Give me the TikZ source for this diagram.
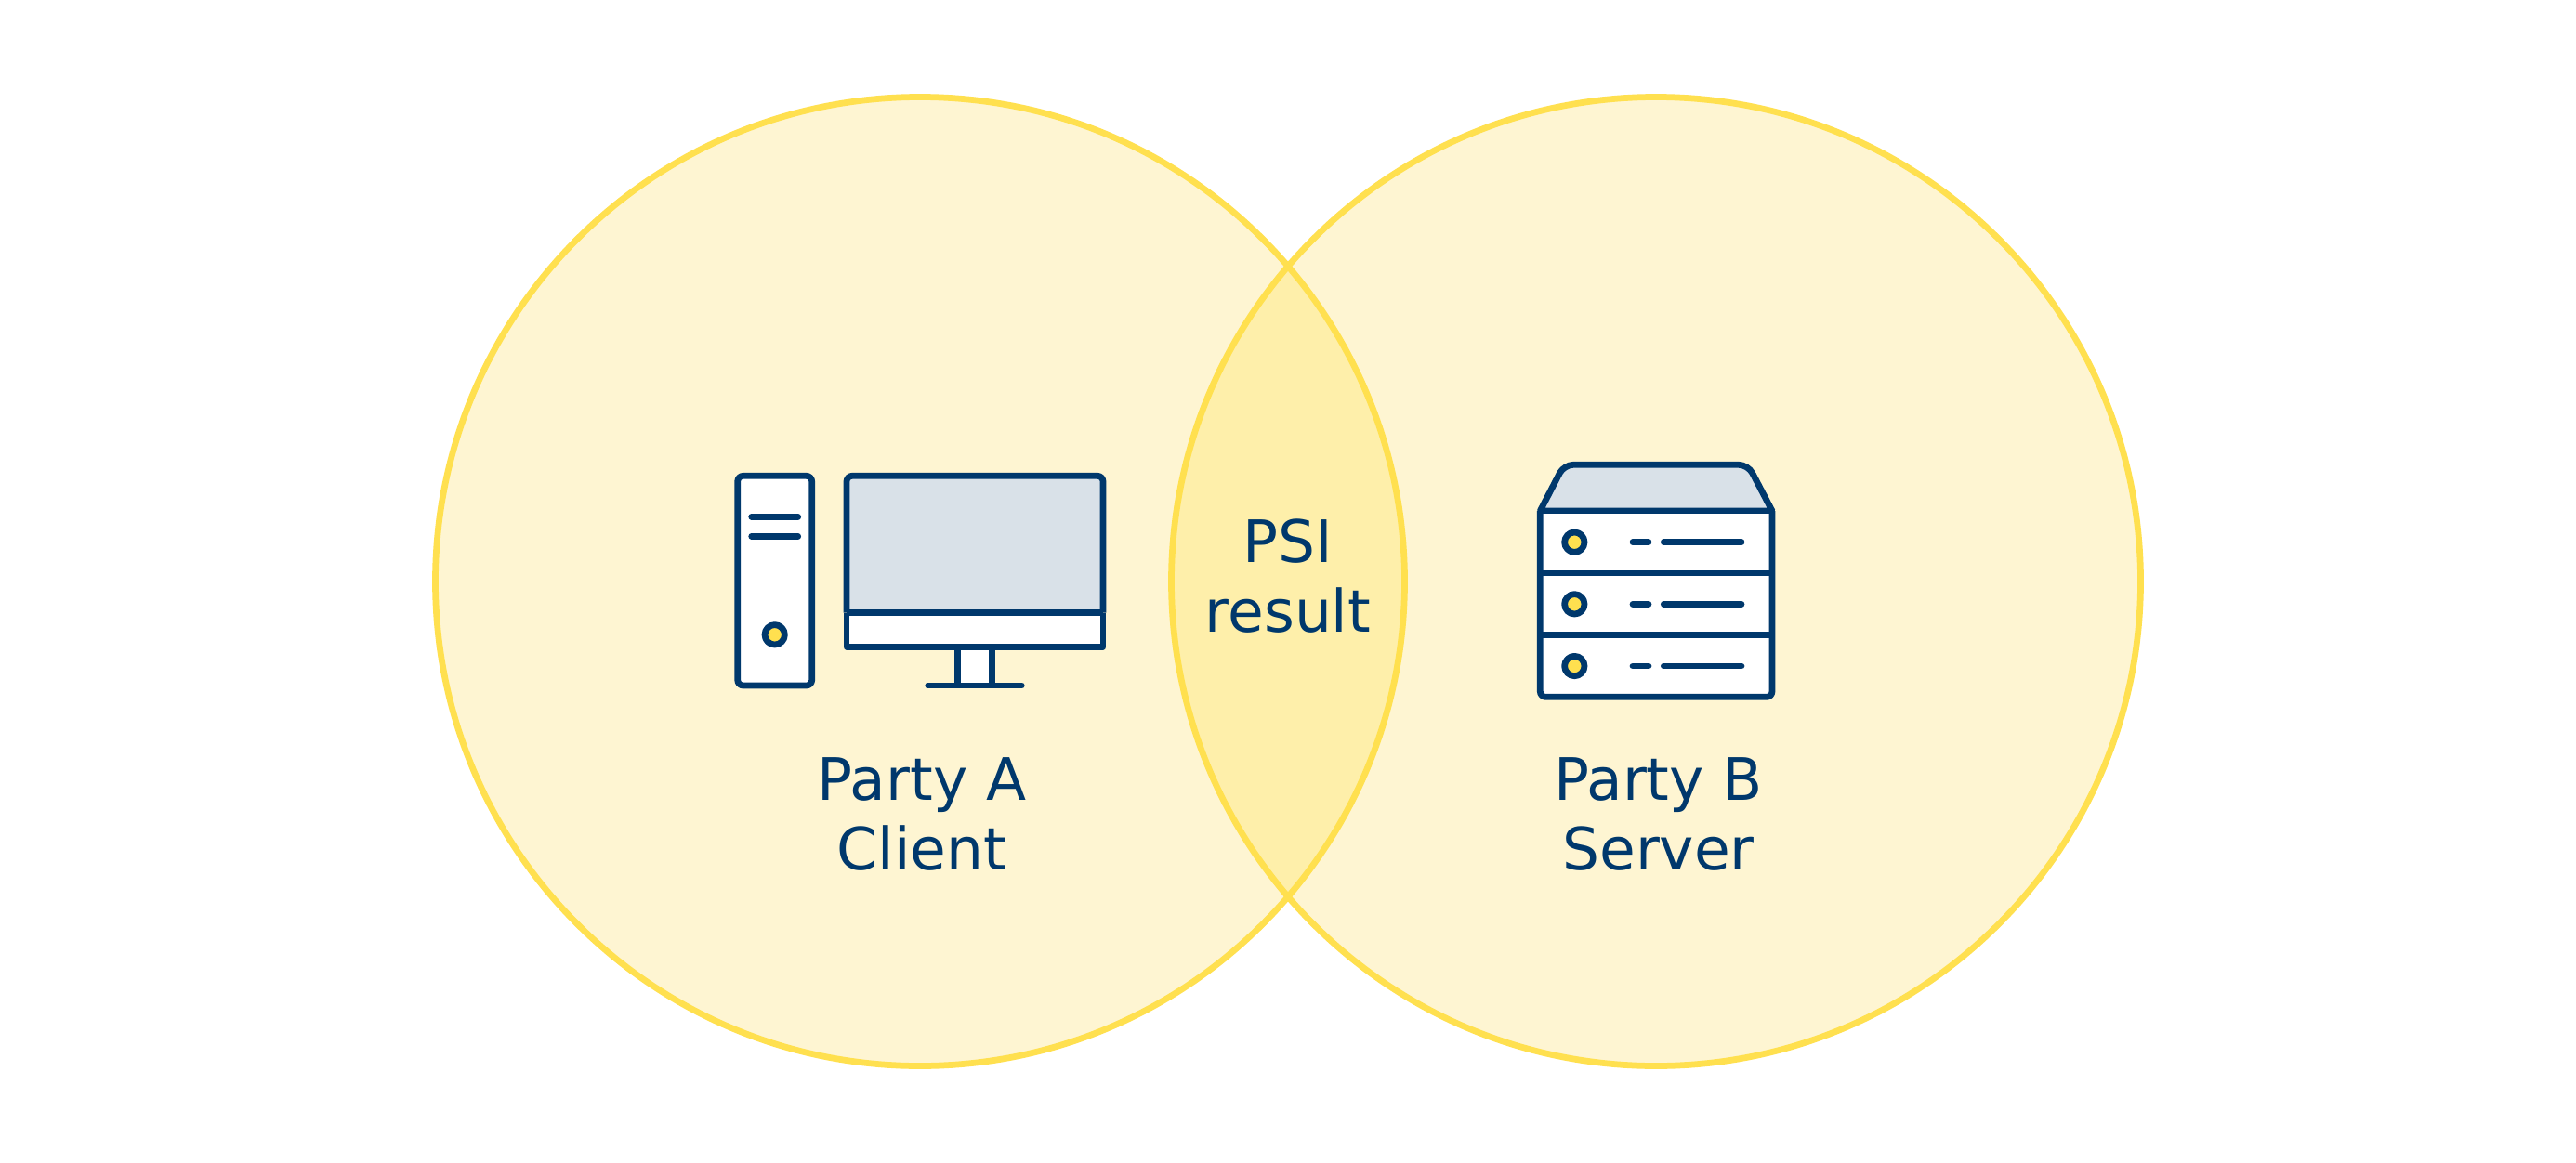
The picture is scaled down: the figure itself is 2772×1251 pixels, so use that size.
\documentclass[tikz,border=0pt]{standalone}
\usepackage{fontspec}
\setmainfont{DejaVu Sans}
\definecolor{ink}{HTML}{00386C}
\definecolor{sun}{HTML}{FFE04F}
\definecolor{paleSun}{HTML}{FEF5D2}
\definecolor{lensSun}{HTML}{FEEFAA}
\definecolor{screen}{HTML}{D9E1E8}
\tikzset{
  x=0.02cm, y=-0.02cm,
  venn/.style={draw=sun, line width=0.135cm},
  icon/.style={draw=ink, line width=0.135cm, line join=round},
  panel/.style={icon, fill=white, rounded corners=0.12cm},
  stroke/.style={draw=ink, line width=0.135cm, line cap=round},
  led/.style={icon, fill=sun},
  label/.style={text=ink, inner sep=0pt, align=center,
    font=\fontsize{35.85}{42.68}\selectfont},
}
\begin{document}
\begin{tikzpicture}
\useasboundingbox[fill=white] (0,0) rectangle (2772,1251);

% Overlapping party circles with the shared region in a deeper tint
\fill[paleSun] (990,626) circle[radius=521.5];
\fill[paleSun] (1782,626) circle[radius=521.5];
\begin{scope}
  \clip (990,626) circle[radius=521.5];
  \fill[lensSun] (1782,626) circle[radius=521.5];
\end{scope}
\draw[venn] (990,626) circle[radius=521.5];
\draw[venn] (1782,626) circle[radius=521.5];

% Desktop tower
\draw[panel] (793.7,512.3) rectangle (873.7,738);
\draw[stroke] (808.7,556.3) -- (858.7,556.3);
\draw[stroke] (808.7,577.3) -- (858.7,577.3);
\draw[led] (833.7,683.3) circle[radius=10.7];

% Monitor
\fill[white] (1030.7,696.3) rectangle (1067.7,738);
\draw[icon] (1030.7,696.3) -- (1030.7,738);
\draw[icon] (1067.7,696.3) -- (1067.7,738);
\draw[stroke] (998.7,738) -- (1099.3,738);
\fill[white] (911,659.7) rectangle (1187,696.3);
\draw[icon, fill=screen, rounded corners=0.12cm]
  (911,659.7) -- (911,512.3) -- (1187,512.3) -- (1187,659.7);
\draw[icon] (911,659.7) -- (1187,659.7);
\draw[icon] (911,659.7) -- (911,696.3) -- (1187,696.3) -- (1187,659.7);

% Server rack with sloped lid
\draw[icon, fill=screen]
  (1657.3,550) [rounded corners=0.2cm] -- (1683,500.3) -- (1881,500.3)
  [sharp corners] -- (1907,550) -- cycle;
\fill[white, rounded corners=0.12cm]
  (1657.3,550) rectangle (1907,750.3);
\draw[icon]
  (1657.3,550) [rounded corners=0.12cm] -- (1657.3,750.3) -- (1907,750.3)
  [sharp corners] -- (1907,550);
\draw[icon] (1657.3,550) -- (1907,550);
\draw[icon] (1657.3,617) -- (1907,617);
\draw[icon] (1657.3,683.3) -- (1907,683.3);
\foreach \rowy in {583.7,650.3,717} {
  \draw[led] (1694.3,\rowy) circle[radius=10.7];
  \draw[stroke] (1757,\rowy) -- (1774,\rowy);
  \draw[stroke] (1790.3,\rowy) -- (1874,\rowy);
}

% Labels
\node[label, anchor=base] (psi) at (1386,680) {PSI\\result};
\node[label, anchor=base] (partyA) at (992,936) {Party A\\Client};
\node[label, anchor=base] (partyB) at (1784.6,936) {Party B\\Server};
\end{tikzpicture}
\end{document}
